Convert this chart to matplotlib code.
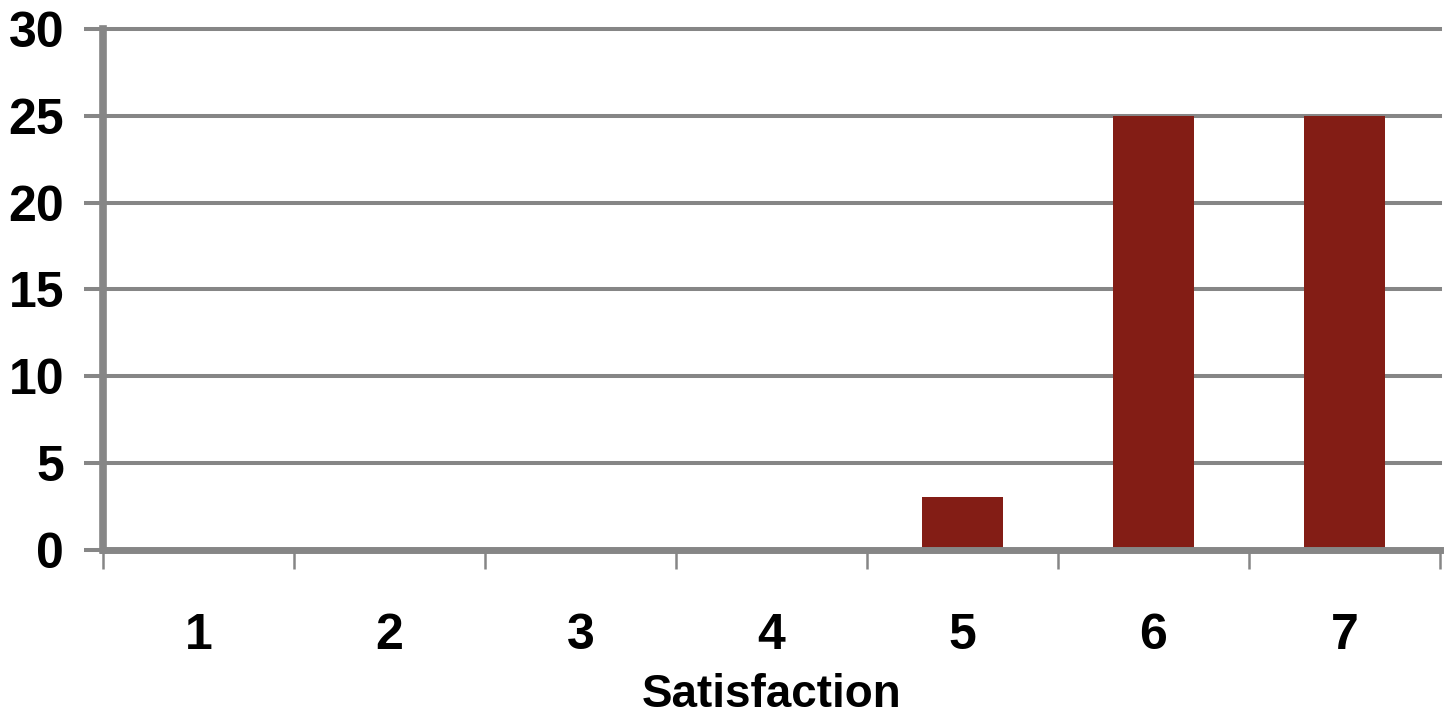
import matplotlib.pyplot as plt
from matplotlib.ticker import FixedLocator

# satisfaction scores and number of answers per score
scores = [1, 2, 3, 4, 5, 6, 7]
counts = [0, 0, 0, 0, 3, 25, 25]
score_labels = ['1', '2', '3', '4', '5', '6', '7']
yticks = [0, 5, 10, 15, 20, 25, 30]

grey = '#868686'
barcol = '#831d15'

plt.rcParams['font.family'] = ['Liberation Sans', 'DejaVu Sans']
plt.rcParams['font.weight'] = 'bold'

fig = plt.figure(figsize=(14.45, 7.16), dpi=100)
ax = fig.add_axes([0.0713, 0.2325, 0.9252, 0.727])

ax.bar(scores, counts, width=0.42, color=barcol, zorder=2)

ax.set_xlim(0.5, 7.5)
ax.set_ylim(0, 30)
ax.set_yticks(yticks)
ax.yaxis.grid(True, color=grey, linewidth=2.9, zorder=1)
ax.set_axisbelow(True)
for gl in ax.get_ygridlines():
    gl.set_clip_on(False)

ax.set_xticks(scores)
ax.set_xticklabels(score_labels)
ax.xaxis.set_minor_locator(FixedLocator([s + 0.5 for s in [0] + scores]))
ax.tick_params(axis='x', which='major', length=0, pad=46, labelsize=36)
ax.tick_params(axis='x', which='minor', length=14, width=1.8, color=grey)
ax.tick_params(axis='y', length=14, width=2.9, color=grey, pad=14, labelsize=36)

for s in ['top', 'right']:
    ax.spines[s].set_visible(False)
ax.spines['left'].set_color(grey)
ax.spines['left'].set_linewidth(5.5)
ax.spines['bottom'].set_color(grey)
ax.spines['bottom'].set_linewidth(5)
ax.spines['bottom'].set_zorder(3)

ax.set_xlabel('Satisfaction', fontsize=33, fontweight='bold', labelpad=10)

plt.savefig('out.png', dpi=100)
